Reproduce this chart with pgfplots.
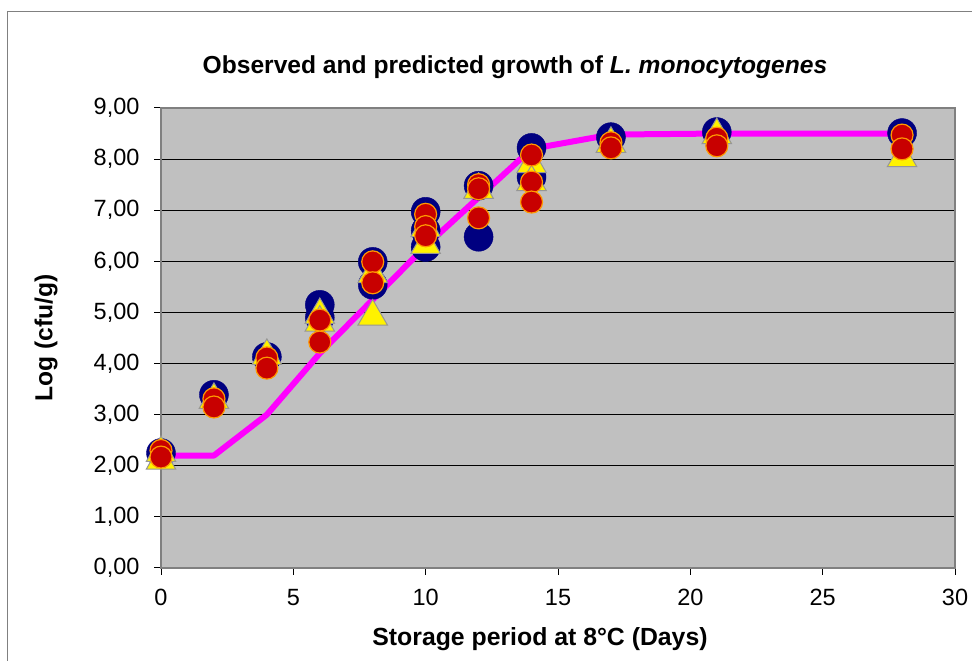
\documentclass[border=0pt]{standalone}
\usepackage{fontspec}
\setmainfont{Liberation Sans}
\usepackage{pgfplots}
\pgfplotsset{compat=1.18}

\definecolor{plotgray}{RGB}{192,192,192}
\definecolor{framegray}{RGB}{128,128,128}
\definecolor{navyblue}{RGB}{0,0,128}
\definecolor{predmag}{RGB}{255,0,255}
\definecolor{obsred}{RGB}{200,0,0}
\definecolor{obsorange}{RGB}{255,153,0}
\definecolor{trigray}{RGB}{150,150,150}

\begin{document}
\begin{tikzpicture}[x=1pt,y=1pt]
\useasboundingbox (0,0) rectangle (972,661);
\fill[white] (0,0) rectangle (972,661);
% chart frame (cut off at right and bottom)
\draw[framegray, line width=1pt] (7,0) -- (7,649) -- (972,649);

\begin{axis}[
    at={(161pt,93pt)}, anchor=south west,
    scale only axis,
    width=794pt, height=460pt,
    xmin=0, xmax=30, ymin=0, ymax=9,
    xtick={0,5,...,30},
    ytick={0,1,...,9},
    tick pos=left,
    tick align=outside,
    major tick length=7pt,
    tick style={black, line width=1pt},
    ymajorgrids,
    grid style={black, line width=1pt},
    axis line style={framegray, line width=2pt},
    axis background/.style={fill=plotgray},
    tick label style={font=\fontsize{23.5}{26}\selectfont},
    yticklabel style={
        /pgf/number format/fixed,
        /pgf/number format/fixed zerofill,
        /pgf/number format/precision=2,
        /pgf/number format/use comma,
        xshift=-11pt},
    /pgf/number format/assume math mode=true,
    xticklabel style={yshift=-11pt},
    clip=false,
]

% predicted
\addplot[predmag, line width=6pt, line join=round] coordinates {
    (0,2.2) (2,2.2) (4,3.0) (6,4.2) (8,5.25) (10,6.3) (12,7.25) (14,8.2)
    (17,8.48) (21,8.5) (28,8.5)
};

% observed 1
\addplot[only marks, mark=*, mark size=14.5pt, mark options={fill=navyblue, draw=navyblue}] coordinates {
    (0,2.25) (2,3.39) (4,4.13) (6,5.15) (6,4.9) (8,5.99) (8,5.54)
    (10,6.97) (10,6.6) (10,6.28) (12,7.48) (12,6.48) (14,8.22) (14,7.65)
    (17,8.43) (21,8.53) (28,8.51)
};

% observed 2
\addplot[only marks, mark=triangle*, mark size=17pt, mark options={fill=yellow, draw=trigray, line width=1pt}] coordinates {
    (0,2.1) (0,2.25) (2,3.29) (4,4.15) (6,4.95) (6,4.8) (8,5.75) (8,4.92)
    (10,6.65) (10,6.32) (12,7.4) (14,7.9) (14,7.55) (17,8.3) (21,8.47) (28,8.02)
};

% observed 3
\addplot[only marks, mark=*, mark size=11pt, mark options={fill=obsred, draw=obsorange, line width=1.2pt}] coordinates {
    (0,2.3) (0,2.17) (2,3.31) (2,3.15) (4,4.11) (4,3.91) (6,4.85) (6,4.42)
    (8,5.99) (8,5.58) (10,6.92) (10,6.68) (10,6.5) (12,7.5) (12,7.42) (12,6.85)
    (14,8.08) (14,7.55) (14,7.16) (17,8.32) (17,8.22) (21,8.41) (21,8.26)
    (28,8.47) (28,8.2)
};
\end{axis}

\node[font=\fontsize{24.6}{28}\selectfont\bfseries] at (515,594) {Observed and predicted growth of \textit{L. monocytogenes}};
\node[font=\fontsize{24.6}{28}\selectfont\bfseries, rotate=90] at (46,323) {Log (cfu/g)};
\node[font=\fontsize{24.8}{28}\selectfont\bfseries] at (540,22) {Storage period at 8°C (Days)};
\end{tikzpicture}
\end{document}
